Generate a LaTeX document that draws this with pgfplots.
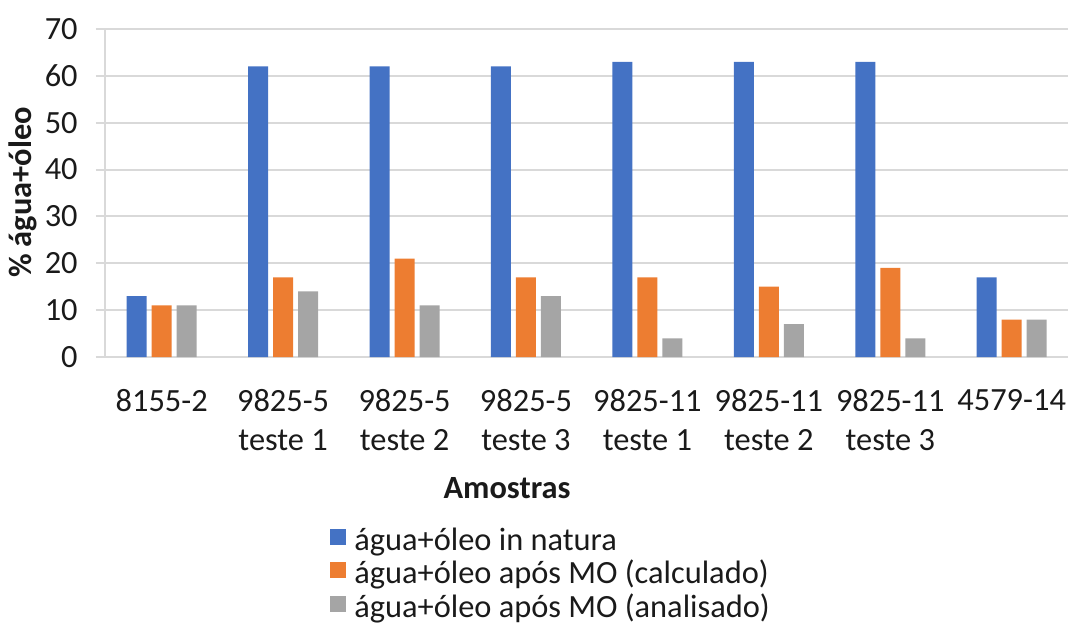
\documentclass[border=0pt]{standalone}
\usepackage{pgfplots}
\pgfplotsset{compat=1.18}
\usepackage{fontspec}
\setmainfont{Carlito}
\definecolor{cBlue}{HTML}{4472C4}
\definecolor{cOrange}{HTML}{ED7D31}
\definecolor{cGray}{HTML}{A5A5A5}
\definecolor{cGrid}{HTML}{D9D9D9}
\definecolor{cText}{HTML}{1A1A1A}
\newcommand{\lblfont}{\fontsize{16.2}{19.5}\selectfont}
\pgfplotsset{sq legend/.style={legend image code/.code={\fill[##1] (0pt,-1pt) rectangle (8pt,7pt);}}}
\begin{document}
\begin{tikzpicture}
\useasboundingbox (-52.5pt,-134pt) rectangle (481.5pt,178.5pt);
\begin{axis}[
  scale only axis, width=481.5pt, height=164pt,
  xmin=-0.467, xmax=7.464, ymin=0, ymax=70,
  ytick={0,10,...,70},
  xtick={0,...,7},
  xticklabels={8155-2,{9825-5\\teste 1},{9825-5\\teste 2},{9825-5\\teste 3},{9825-11\\teste 1},{9825-11\\teste 2},{9825-11\\teste 3},4579-14},
  ybar=2.5pt, bar width=10pt,
  axis lines*=left,
  axis line style={cGrid, line width=1pt},
  ymajorgrids, grid style={cGrid, line width=1pt},
  xtick style={draw=none},
  ytick style={cGrid, line width=1pt},
  tick align=outside, major tick length=4.5pt,
  tick label style={font=\lblfont, text=cText},
  xticklabel style={align=center, inner sep=0pt, anchor=north, yshift=-11.5pt},
  yticklabel style={inner sep=0pt, anchor=east, xshift=-9pt},
  /pgf/number format/assume math mode=true,
  legend style={at={(0.2336,-0.5213)}, anchor=north west, draw=none, fill=none,
    font=\lblfont, text=cText, inner sep=0pt, row sep=2.25pt, column sep=4pt,
    nodes={inner sep=0pt, text height=11pt, text depth=3.5pt}},
  legend cell align=left,
]
% água+óleo in natura
\addplot[fill=cBlue, draw=none, sq legend] coordinates
  {(0,13) (1,62) (2,62) (3,62) (4,63) (5,63) (6,63) (7,17)};
% água+óleo após MO (calculado)
\addplot[fill=cOrange, draw=none, sq legend] coordinates
  {(0,11) (1,17) (2,21) (3,17) (4,17) (5,15) (6,19) (7,8)};
% água+óleo após MO (analisado)
\addplot[fill=cGray, draw=none, sq legend] coordinates
  {(0,11) (1,14) (2,11) (3,13) (4,4) (5,7) (6,4) (7,8)};
\legend{água+óleo in natura, água+óleo após MO (calculado), água+óleo após MO (analisado)}
\end{axis}
\node[rotate=90, font=\bfseries\lblfont, text=cText] at (-41pt,82.25pt) {\% água+óleo};
\node[anchor=base, font=\bfseries\lblfont, text=cText] at (201pt,-70.5pt) {Amostras};
\end{tikzpicture}
\end{document}
